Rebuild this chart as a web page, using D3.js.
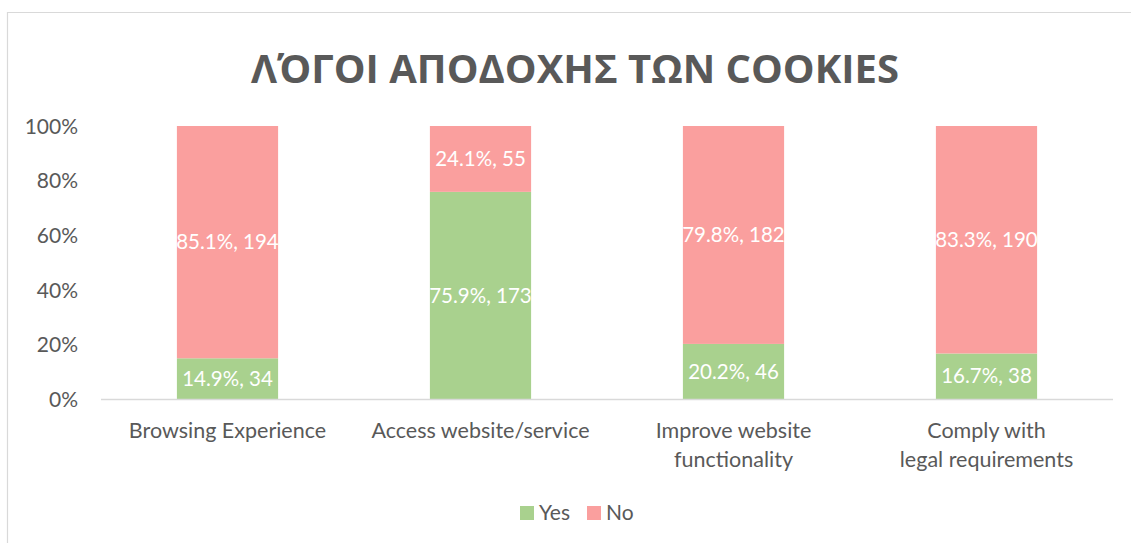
<!DOCTYPE html>
<html>
<head>
<meta charset="utf-8">
<script src="https://cdn.jsdelivr.net/npm/d3@7"></script>
<style>
  html, body { margin: 0; padding: 0; background: #fff; }
  svg { display: block; }
</style>
</head>
<body>
<svg id="chart" width="1131" height="543"></svg>
<script>
// Reasons for accepting cookies: respondent counts per answer
const categories = [
  ["Browsing Experience"],
  ["Access website/service"],
  ["Improve website", "functionality"],
  ["Comply with", "legal requirements"]
];
const yesCounts = [34, 173, 46, 38];
const noCounts = [194, 55, 182, 190];
const seriesNames = ["Yes", "No"];
const tickValues = [0, 0.2, 0.4, 0.6, 0.8, 1];
const titleText = "ΛΌΓΟΙ ΑΠΟΔΟΧΗΣ ΤΩΝ COOKIES";

const colors = { Yes: "#A9D18E", No: "#FA9F9E" };
const textColor = "#595959";
const gridColor = "#D9D9D9";
const bodyFont = "Lato, 'Open Sans', sans-serif";

const W = 1131, H = 543;
const plot = { left: 101, right: 1113, top: 126, bottom: 399 };

const svg = d3.select("#chart");

// outer chart frame (top and left edges visible)
svg.append("path")
  .attr("d", `M7.5,${H} L7.5,12.5 L${W},12.5`)
  .attr("fill", "none")
  .attr("stroke", gridColor)
  .attr("stroke-width", 1.2);

// title
svg.append("text")
  .attr("x", 575)
  .attr("y", 83)
  .attr("text-anchor", "middle")
  .attr("font-family", "'Open Sans', 'Noto Sans', sans-serif")
  .attr("font-weight", 700)
  .attr("font-size", 40)
  .attr("fill", textColor)
  .text(titleText);

// stacked percentages
const rows = categories.map((c, i) => {
  const total = yesCounts[i] + noCounts[i];
  return { key: i, Yes: yesCounts[i] / total, No: noCounts[i] / total,
           YesN: yesCounts[i], NoN: noCounts[i] };
});
const stacked = d3.stack().keys(seriesNames)(rows);

const x = d3.scaleBand()
  .domain(rows.map(d => d.key))
  .range([plot.left, plot.right])
  .paddingInner(0.6)
  .paddingOuter(0.3);

const y = d3.scaleLinear().domain([0, 1]).range([plot.bottom, plot.top]);

// y axis labels
const yAxis = d3.axisLeft(y)
  .tickValues(tickValues)
  .tickFormat(d3.format(".0%"))
  .tickSize(0)
  .tickPadding(0);
const yg = svg.append("g").attr("transform", "translate(78,0)").call(yAxis);
yg.select(".domain").remove();
yg.selectAll("text")
  .attr("font-family", bodyFont)
  .attr("font-size", 21)
  .attr("fill", textColor)
  .attr("dy", "0.35em");

// bars
const layers = svg.append("g").selectAll("g")
  .data(stacked)
  .join("g")
  .attr("fill", d => colors[d.key]);

layers.selectAll("rect")
  .data(d => d)
  .join("rect")
  .attr("x", d => x(d.data.key))
  .attr("width", x.bandwidth())
  .attr("y", d => y(d[1]))
  .attr("height", d => y(d[0]) - y(d[1]));

// data labels: "pct%, count"
const pctFmt = d3.format(".1%");
stacked.forEach(layer => {
  svg.append("g").selectAll("text")
    .data(layer)
    .join("text")
    .attr("x", d => x(d.data.key) + x.bandwidth() / 2)
    .attr("y", d => (y(d[0]) + y(d[1])) / 2)
    .attr("dy", "0.35em")
    .attr("text-anchor", "middle")
    .attr("font-family", bodyFont)
    .attr("font-size", 20.5)
    .attr("fill", "#fff")
    .text(d => `${pctFmt(d.data[layer.key])}, ${d.data[layer.key + "N"]}`);
});

// x axis line
svg.append("line")
  .attr("x1", plot.left).attr("x2", plot.right)
  .attr("y1", plot.bottom + 0.5).attr("y2", plot.bottom + 0.5)
  .attr("stroke", gridColor)
  .attr("stroke-width", 1.5);

// category labels
const catG = svg.append("g").selectAll("text")
  .data(rows)
  .join("text")
  .attr("x", d => x(d.key) + x.bandwidth() / 2)
  .attr("y", 438)
  .attr("text-anchor", "middle")
  .attr("font-family", bodyFont)
  .attr("font-size", 21.5)
  .attr("fill", textColor);
catG.selectAll("tspan")
  .data(d => categories[d.key])
  .join("tspan")
  .attr("x", function() { return d3.select(this.parentNode).attr("x"); })
  .attr("dy", (d, i) => i === 0 ? 0 : 28.5)
  .text(d => d);

// legend
const legendItems = [
  { name: "Yes", sx: 520, tx: 539 },
  { name: "No", sx: 587, tx: 606 }
];
const lg = svg.append("g");
lg.selectAll("rect")
  .data(legendItems)
  .join("rect")
  .attr("x", d => d.sx).attr("y", 506)
  .attr("width", 14).attr("height", 14)
  .attr("fill", d => colors[d.name]);
lg.selectAll("text")
  .data(legendItems)
  .join("text")
  .attr("x", d => d.tx).attr("y", 520)
  .attr("font-family", bodyFont)
  .attr("font-size", 21)
  .attr("fill", textColor)
  .text(d => d.name);
</script>
</body>
</html>
